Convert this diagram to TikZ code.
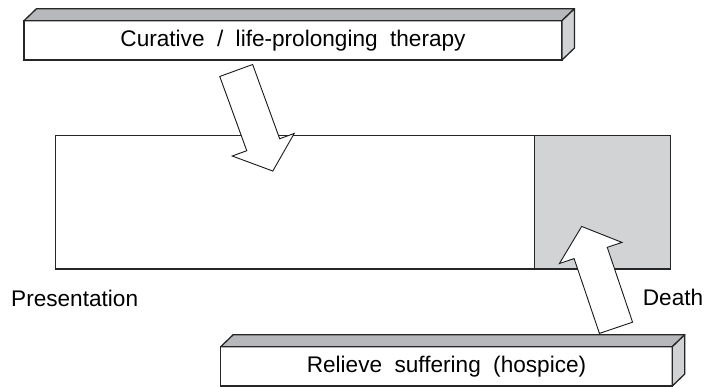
\documentclass[tikz,border=0pt]{standalone}
\usepackage{fontspec}
\setmainfont{Liberation Sans}
\usetikzlibrary{positioning,calc}

\definecolor{topgray}{RGB}{182,184,187}
\definecolor{sidegray}{RGB}{208,210,211}
\definecolor{bargray}{RGB}{209,211,212}
\newcommand{\labelfont}{\fontsize{22.6}{27}\selectfont\spaceskip=0.55em plus 0.1em\relax}

\begin{document}
\begin{tikzpicture}[
    x=1pt, y=1pt,
    front/.style={rectangle, draw=black!85, line width=1.3pt, fill=white, outer sep=0pt, inner sep=0pt, font=\labelfont},
    topface/.style={draw=black!85, line width=1.3pt, fill=topgray, line join=round},
    sideface/.style={draw=black!85, line width=1.3pt, fill=sidegray, line join=round},
    phase/.style={rectangle, draw=black!85, line width=1.1pt, outer sep=0pt, inner sep=0pt, minimum height=133.3pt},
    blockarrow/.style={draw=black!90, line width=0.9pt, fill=white, line join=miter},
    caption/.style={inner sep=0pt, anchor=base west, font=\labelfont}
]
\useasboundingbox (0,0) rectangle (706,387);

% top box
\node[front, minimum width=538pt, minimum height=39.3pt] (cure) at (293,346.65) {Curative / life-prolonging therapy};
\draw[topface] (cure.north west) -- ++(12.5,12) -- ($(cure.north east)+(12.5,12)$) -- (cure.north east) -- cycle;
\draw[sideface] (cure.north east) -- ++(12.5,12) -- ($(cure.south east)+(12.5,12)$) -- (cure.south east) -- cycle;

% course of illness
\node[phase, fill=white, minimum width=479.4pt] (course) at (295,184.65) {};
\node[phase, fill=bargray, minimum width=136pt, right=0pt of course] (dying) {};

% bottom box
\node[front, minimum width=451.6pt, minimum height=39.3pt] (hospice) at (446.5,20.65) {Relieve suffering (hospice)};
\draw[topface] (hospice.north west) -- ++(12.5,12) -- ($(hospice.north east)+(12.5,12)$) -- (hospice.north east) -- cycle;
\draw[sideface] (hospice.north east) -- ++(12.5,12) -- ($(hospice.south east)+(12.5,12)$) -- (hospice.south east) -- cycle;

% block arrows
\draw[blockarrow, shift={(236.2,316.5)}, rotate=-70]
    (0,-17.5) -- (79,-17.5) -- (79,-33) -- (107,0) -- (79,33) -- (79,17.5) -- (0,17.5) -- cycle;
\draw[blockarrow, shift={(616,59.2)}, rotate=108.7]
    (0,-17.5) -- (79,-17.5) -- (79,-33) -- (107,0) -- (79,33) -- (79,17.5) -- (0,17.5) -- cycle;

\node[caption] (start) at (11,80.3) {Presentation};
\node[caption] (death) at (642.7,81.5) {Death};
\end{tikzpicture}
\end{document}
